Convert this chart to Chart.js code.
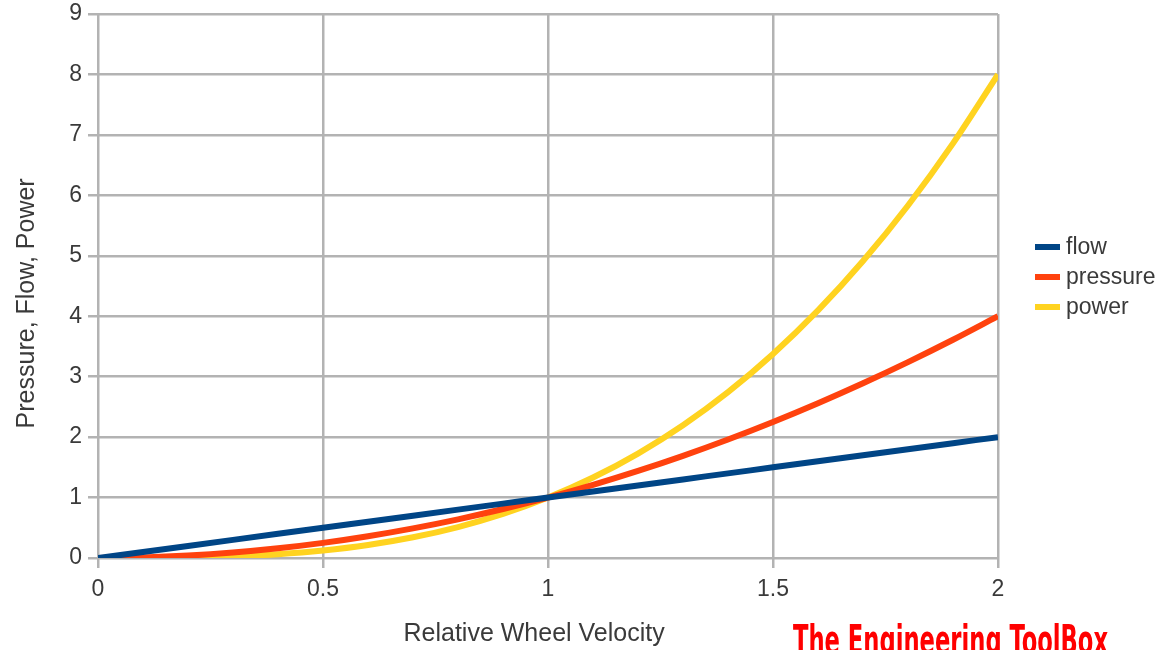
<!DOCTYPE html>
<html>
<head>
<meta charset="utf-8">
<script src="https://cdn.jsdelivr.net/npm/chart.js@4/dist/chart.umd.min.js"></script>
<style>
  html, body { margin: 0; padding: 0; background: #fff; }
  #wrap { width: 1163px; height: 650px; }
</style>
</head>
<body>
<div id="wrap"><canvas id="wheel" width="1163" height="650"></canvas></div>
<script>
// values
var velocity = [0, 0.1, 0.2, 0.3, 0.4, 0.5, 0.6, 0.7, 0.8, 0.9, 1, 1.1, 1.2, 1.3, 1.4, 1.5, 1.6, 1.7, 1.8, 1.9, 2];
var flow = [0, 0.1, 0.2, 0.3, 0.4, 0.5, 0.6, 0.7, 0.8, 0.9, 1, 1.1, 1.2, 1.3, 1.4, 1.5, 1.6, 1.7, 1.8, 1.9, 2];
var pressure = [0, 0.01, 0.04, 0.09, 0.16, 0.25, 0.36, 0.49, 0.64, 0.81, 1, 1.21, 1.44, 1.69, 1.96, 2.25, 2.56, 2.89, 3.24, 3.61, 4];
var power = [0, 0.001, 0.008, 0.027, 0.064, 0.125, 0.216, 0.343, 0.512, 0.729, 1, 1.331, 1.728, 2.197, 2.744, 3.375, 4.096, 4.913, 5.832, 6.859, 8];
var seriesNames = ['flow', 'pressure', 'power'];
var colors = ['#004586', '#ff420e', '#ffd320'];

var gridColor = '#b3b3b3';
var textColor = '#3a3a3a';
var font = 'Liberation Sans, Arial, sans-serif';

function points(values) {
    return velocity.map(function(v, i) { return { x: v, y: values[i] }; });
}

function line(label, values, color) {
    return {
        label: label,
        data: points(values),
        borderColor: color,
        backgroundColor: color,
        borderWidth: 6,
        pointRadius: 0,
        cubicInterpolationMode: 'monotone',
        fill: false
    };
}

// legend on the right and the watermark, drawn on the canvas
var extras = {
    id: 'extras',
    afterDraw: function(chart) {
        var ctx = chart.ctx;
        ctx.save();
        ctx.font = '23px ' + font;
        ctx.textBaseline = 'middle';
        ctx.textAlign = 'left';
        chart.data.datasets.forEach(function(ds, i) {
            var y = 247 + i * 30;
            ctx.fillStyle = ds.borderColor;
            ctx.fillRect(1035, y - 3, 25, 6);
            ctx.fillStyle = textColor;
            ctx.fillText(ds.label, 1066, y + 1);
        });

        var mark = 'The Engineering ToolBox';
        ctx.font = 'bold 40px "DejaVu Sans Condensed", "DejaVu Sans", sans-serif';
        ctx.textBaseline = 'top';
        var w = ctx.measureText(mark).width;
        ctx.translate(793, 624);
        ctx.scale(315 / w, 1);
        ctx.fillStyle = '#ff0000';
        ctx.fillText(mark, 0, 0);
        ctx.restore();
    }
};

new Chart(document.getElementById('wheel').getContext('2d'), {
    type: 'line',
    data: {
        datasets: [
            line(seriesNames[0], flow, colors[0]),
            line(seriesNames[1], pressure, colors[1]),
            line(seriesNames[2], power, colors[2])
        ]
    },
    options: {
        responsive: false,
        animation: false,
        layout: { padding: { left: 0, top: 14, right: 165, bottom: 0 } },
        plugins: {
            legend: { display: false },
            tooltip: { enabled: false }
        },
        scales: {
            x: {
                type: 'linear',
                min: 0,
                max: 2,
                ticks: {
                    stepSize: 0.5, color: textColor, font: { family: font, size: 23 }, padding: 8, maxRotation: 0,
                    callback: function(v) { return String(v); }
                },
                grid: { color: gridColor, lineWidth: 2.5, tickLength: 10, tickColor: gridColor },
                border: { display: false },
                title: {
                    display: true,
                    text: 'Relative Wheel Velocity\u00a0\u00a0\u00a0\u00a0',
                    color: textColor,
                    font: { family: font, size: 25 },
                    padding: { top: 0, bottom: 1 }
                },
                afterFit: function(scale) {
                    scale.height = 92;
                    scale.paddingLeft = 0;
                    scale.paddingRight = 0;
                }
            },
            y: {
                min: 0,
                max: 9,
                ticks: { stepSize: 1, color: textColor, font: { family: font, size: 23 }, padding: 6 },
                grid: { color: gridColor, lineWidth: 2.5, tickLength: 10, tickColor: gridColor },
                border: { display: false },
                title: {
                    display: true,
                    text: 'Pressure, Flow, Power\u00a0\u00a0\u00a0\u00a0\u00a0',
                    color: textColor,
                    font: { family: font, size: 25 },
                    padding: { top: 12, bottom: 0 }
                },
                afterFit: function(scale) {
                    scale.width = 98;
                    scale.paddingTop = 0;
                    scale.paddingBottom = 0;
                }
            }
        }
    },
    plugins: [extras]
});
</script>
</body>
</html>
